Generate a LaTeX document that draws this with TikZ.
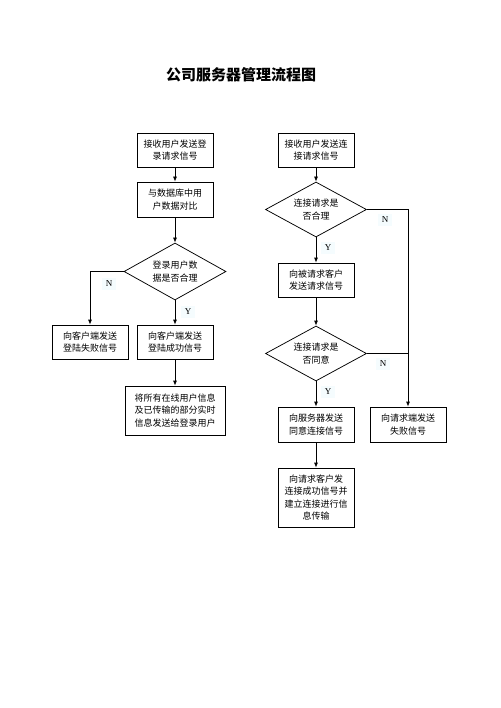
\documentclass[tikz,border=0pt]{standalone}
\usepackage{fontspec}
\setmainfont{Noto Sans CJK SC}
\newfontfamily\latinserif{Liberation Serif}
\usetikzlibrary{arrows.meta, shapes.geometric}
\tikzset{%
	procbox/.style={
		rectangle,
		draw,
		line width=0.75pt,
		minimum width=76pt,
		minimum height=34pt,
		inner sep=2pt,
		align=center,
		font=\fontsize{9}{12.5}\selectfont
	},
	decision/.style={
		diamond,
		draw,
		line width=0.75pt,
		aspect=1.8,
		inner sep=0pt,
		minimum width=102pt,
		minimum height=56pt,
		align=center,
		font=\fontsize{9}{12.5}\selectfont
	},
	yn/.style={
		fill=cyan!4,
		inner sep=3.5pt,
		font=\latinserif\fontsize{9}{10}\selectfont
	},
	arr/.style={-{Latex[length=5pt,width=4pt]}, line width=0.75pt},
	link/.style={line width=0.75pt},
}
\begin{document}
\begin{tikzpicture}[x=1pt,y=-1pt]
			\useasboundingbox (0,0) rectangle (500,708);
			% Title
			\node[font=\bfseries\fontsize{15}{18}\selectfont] (title) at (241,75) {公司服务器管理流程图};
			
			% Login branch (left)
			\node[procbox] (recvlogin) at (175,150) {接收用户发送登\\录请求信号};
			\node[procbox, minimum height=35pt] (compare) at (175,199.5) {与数据库中用\\户数据对比};
			\node[decision, minimum height=57pt] (checklogin) at (175,271.5) {登录用户数\\据是否合理};
			\node[procbox] (loginfail) at (90,342) {向客户端发送\\登陆失败信号};
			\node[procbox] (loginok) at (175,342) {向客户端发送\\登陆成功信号};
			\node[procbox, minimum width=100pt, minimum height=49pt] (sendinfo) at (175,410.5) {将所有在线用户信息\\及已传输的部分实时\\信息发送给登录用户};
			\node[yn] (nlogin) at (109,284) {N};
			\node[yn] (ylogin) at (188,312) {Y};
			
			% Connection branch (right)
			\node[procbox] (recvconn) at (316,150) {接收用户发送连\\接请求信号};
			\node[decision, minimum width=101pt, minimum height=55pt] (checkconn) at (316,209.5) {连接请求是\\否合理};
			\node[procbox] (forward) at (316,280) {向被请求客户\\发送请求信号};
			\node[decision, minimum width=101pt, minimum height=55pt] (agree) at (316,353.5) {连接请求是\\否同意};
			\node[procbox, minimum height=35pt] (notifyserver) at (316,424.5) {向服务器发送\\同意连接信号};
			\node[procbox, minimum height=35pt] (connfail) at (408,424.5) {向请求端发送\\失败信号};
			\node[procbox, minimum height=59pt] (connect) at (316,497.5) {向请求客户发\\连接成功信号并\\建立连接进行信\\息传输};
			\node[yn] (nconn) at (385,220) {N};
			\node[yn] (yconn) at (328,248) {Y};
			\node[yn] (nagree) at (383,364) {N};
			\node[yn] (yagree) at (328,392) {Y};
			
			% Connectors
			\draw[arr] (recvlogin) -- (compare);
			\draw[arr] (compare) -- (checklogin);
			\draw[arr] (checklogin.west) -| (loginfail.north);
			\draw[arr] (checklogin) -- (loginok);
			\draw[arr] (loginok) -- (sendinfo);
			
			\draw[arr] (recvconn) -- (checkconn);
			\draw[arr] (checkconn) -- (forward);
			\draw[arr] (checkconn.east) -| (connfail.north);
			\draw[arr] (forward) -- (agree);
			\coordinate (joint) at (agree.east -| connfail.north);
			\draw[link] (agree.east) -- (joint);
			\draw[arr] (agree) -- (notifyserver);
			\draw[arr] (notifyserver) -- (connect);
		\end{tikzpicture}
\end{document}
